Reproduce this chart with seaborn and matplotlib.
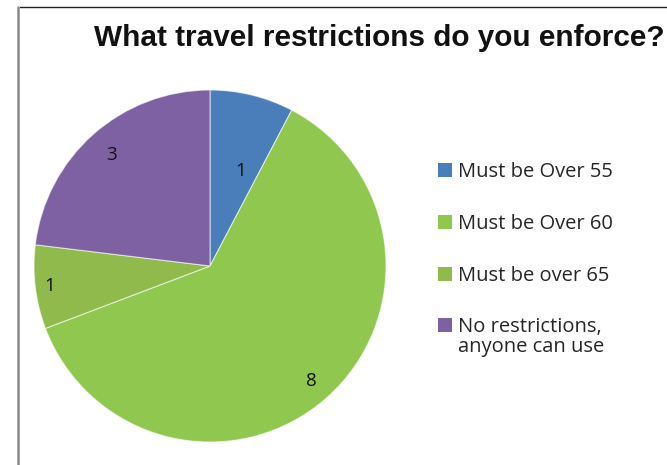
import matplotlib
matplotlib.use("Agg")
import matplotlib.pyplot as plt
from matplotlib.patches import Rectangle
from matplotlib.lines import Line2D
import numpy as np
import seaborn as sns

# Survey answers
categories = ["Must be Over 55", "Must be Over 60", "Must be over 65",
              "No restrictions,\nanyone can use"]
counts = [1, 8, 1, 3]
title = "What travel restrictions do you enforce?"

sns.set_theme(style="white")
plt.rcParams["font.family"] = ["Open Sans", "DejaVu Sans"]
palette = sns.color_palette(["#4a7ebb", "#8fc74f", "#90bb4c", "#7e61a2"])

W, H = 667, 465
fig = plt.figure(figsize=(W / 100, H / 100), dpi=100)
fig.patch.set_facecolor("white")


def fx(px):
    return px / W


def fy(py):
    return 1 - py / H


# frame lines along the top and left edges
fig.add_artist(Line2D([fx(17.5), fx(17.5)], [0, fy(7)],
                      color="#8a8a8a", lw=1.8, transform=fig.transFigure))
fig.add_artist(Line2D([fx(20), 1], [fy(7), fy(7)],
                      color="#222222", lw=1.0, transform=fig.transFigure))

ax = fig.add_axes([fx(34), 23 / H, 352 / W, 352 / H])
wedges, _ = ax.pie(counts, colors=palette, startangle=90, counterclock=False,
                   radius=1.0,
                   wedgeprops=dict(edgecolor=(1, 1, 1, 0.6), linewidth=0.8))
ax.set_xlim(-1, 1)
ax.set_ylim(-1, 1)
ax.set_aspect("equal")
ax.axis("off")

# value labels inside each slice
label_r = [0.57, 0.87, 0.92, 0.84]
label_shift = [-4, 0, 0, 0]
for w, v, r, s in zip(wedges, counts, label_r, label_shift):
    ang = np.deg2rad((w.theta1 + w.theta2) / 2 + s)
    ax.text(r * np.cos(ang), r * np.sin(ang), str(v), ha="center", va="center",
            fontsize=13.5, color="#111111")

fig.text(fx(379), fy(38), title, ha="center", va="center",
         fontsize=21.4, fontweight="bold", color="#111111",
         family=["Liberation Sans", "DejaVu Sans"])

# legend: colour swatch followed by its label
row_y = [170, 222, 274, 325]
line_h = 20
for cat, c, y in zip(categories, palette, row_y):
    fig.add_artist(Rectangle((fx(438), fy(y + 7)), 14 / W, 14 / H,
                             facecolor=c, edgecolor="none",
                             transform=fig.transFigure))
    fig.text(fx(458), fy(y - line_h / 2 + 2), cat, ha="left", va="top",
             fontsize=14.5, color="#262626", linespacing=1.0)

fig.savefig("out.png", dpi=100, facecolor="white")
